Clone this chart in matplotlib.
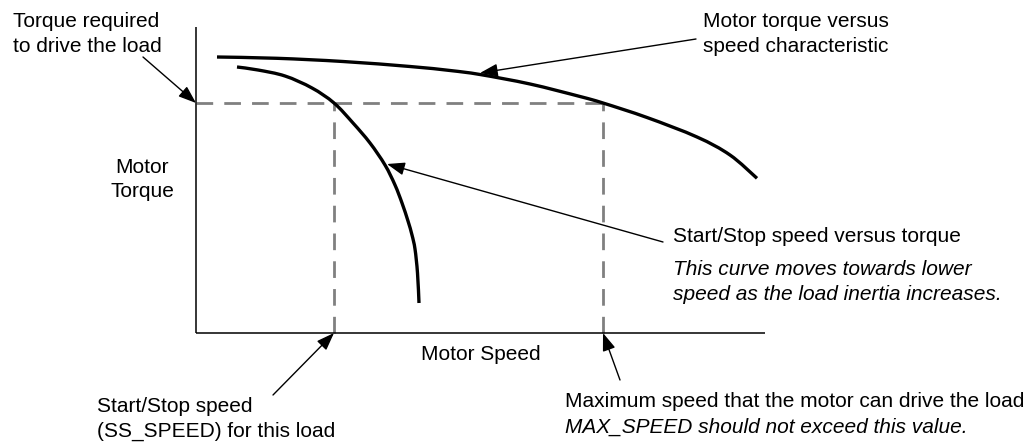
import matplotlib
matplotlib.use("Agg")
import matplotlib.pyplot as plt
import numpy as np
from matplotlib.path import Path
from matplotlib.patches import PathPatch

plt.rcParams["font.family"] = ["Liberation Sans", "DejaVu Sans"]

# Motor torque versus speed characteristic (speed, torque in drawing units)
motor_speed = [21, 81, 147, 214, 254, 284, 334, 384, 407, 451, 501, 534, 561]
motor_torque = [276, 274.7, 271.5, 266.5, 262.5, 258.5, 249, 236.5, 230, 215.5, 196, 178, 154.7]

# Start/Stop speed versus torque
ss_curve_speed = [41, 62, 89, 116, 138, 157, 174, 189, 199, 206, 212, 216, 219, 221.5, 223]
ss_curve_torque = [266, 263, 257, 245, 230, 210, 190, 168, 148, 130, 112, 98, 84, 60, 30]

# Operating point for the load
load_torque = 230
ss_speed = 138
max_speed = 407

# Axis extents
speed_axis_end = 569
torque_axis_end = 306

FS = 15
GRAY = "#808080"

fig = plt.figure(figsize=(10.25, 4.47), dpi=100)
ax = fig.add_axes([0, 0, 1, 1])
ax.set_xlim(-196, 829)
ax.set_ylim(-114, 333)
ax.axis("off")


def smooth_path(xs, ys):
    """Cubic Bezier path through every point (Catmull-Rom tangents)."""
    p = np.column_stack([xs, ys]).astype(float)
    verts = [p[0]]
    codes = [Path.MOVETO]
    n = len(p)
    for i in range(n - 1):
        p0 = p[i - 1] if i > 0 else p[i]
        p1, p2 = p[i], p[i + 1]
        p3 = p[i + 2] if i + 2 < n else p[i + 1]
        c1 = p1 + (p2 - p0) / 6.0
        c2 = p2 - (p3 - p1) / 6.0
        verts += [c1, c2, p2]
        codes += [Path.CURVE4] * 3
    return Path(verts, codes)


# Axes of the diagram
ax.plot([0, speed_axis_end], [0, 0], color="black", lw=1.1, solid_capstyle="butt")
ax.plot([0, 0], [0, torque_axis_end], color="black", lw=1.1, solid_capstyle="butt")

# Dashed guides
dash = dict(color=GRAY, lw=2, dashes=(6, 4), zorder=1)
ax.plot([0, max_speed], [load_torque, load_torque], **dash)
ax.plot([ss_speed, ss_speed], [0, load_torque], **dash)
ax.plot([max_speed, max_speed], [0, load_torque], **dash)

# Curves
for xs, ys in [(motor_speed, motor_torque), (ss_curve_speed, ss_curve_torque)]:
    ax.add_patch(PathPatch(smooth_path(xs, ys), facecolor="none", edgecolor="black",
                           lw=2.4, capstyle="butt", zorder=3))

arrow = dict(arrowstyle="-|>,head_length=0.6,head_width=0.22", mutation_scale=18,
             lw=1, color="black", shrinkA=0, shrinkB=0)


def pointer(tip, tail):
    ax.annotate("", xy=tip, xytext=tail, arrowprops=arrow, zorder=4)


pointer((0, load_torque), (-53, 276))
pointer((284, 260), (500, 294))
pointer((191, 169), (467, 91))
pointer((ss_speed, 0), (77, -62))
pointer((max_speed, 0), (424, -47))


def label(x, y, s, **kw):
    ax.text(x, y, s, fontsize=FS, color="black", va="baseline", ha=kw.pop("ha", "left"), **kw)


label(-183, 306, "Torque required")
label(-183, 281, "to drive the load")

label(-54, 160, "Motor", ha="center")
label(-54, 136, "Torque", ha="center")

label(285, -27, "Motor Speed", ha="center")

label(507, 306, "Motor torque versus")
label(507, 281, "speed characteristic")

label(477, 91, "Start/Stop speed versus torque")
label(477, 58, "This curve moves towards lower", style="italic")
label(477, 33, "speed as the load inertia increases.", style="italic")

label(369, -74, "Maximum speed that the motor can drive the load")
label(369, -100, "MAX_SPEED should not exceed this value.", style="italic")

label(-99, -79, "Start/Stop speed")
label(-99, -104, "(SS_SPEED) for this load")

fig.savefig("out.png", dpi=100, facecolor="white")
